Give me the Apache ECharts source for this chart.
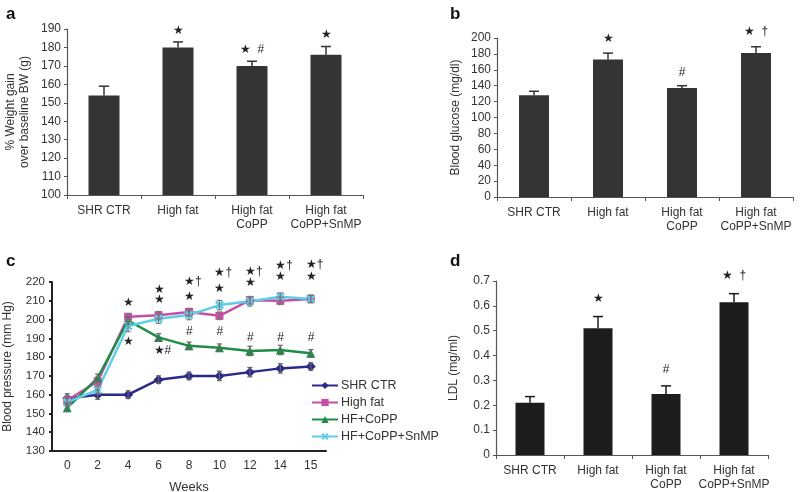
<!DOCTYPE html>
<html><head><meta charset="utf-8">
<script src="https://cdn.jsdelivr.net/npm/echarts@6/dist/echarts.min.js"></script>
<style>html,body{margin:0;padding:0;background:#fff}#c{width:800px;height:492px}</style>
</head><body><div id="c"></div>
<script>
// ---------- data ----------
const groups = ['SHR CTR', 'High fat', 'High fat\nCoPP', 'High fat\nCoPP+SnMP'];

const weightGain = [154, 180, 170, 176];
const weightGainErr = [5, 3, 2.5, 4.5];
const weightGainMarks = [[1, 189, '★'], [2, 179, '★  #'], [3, 186.7, '★']];

const glucose = [128, 173, 137, 181];
const glucoseErr = [5, 8, 3, 8];
const glucoseMarks = [[1, 198.7, '★'], [2, 156.6, '#'], [3, 207.6, '★  †']];

const ldl = [0.21, 0.51, 0.245, 0.615];
const ldlErr = [0.025, 0.047, 0.033, 0.034];
const ldlMarks = [[1, 0.63, '★'], [2, 0.342, '#'], [3, 0.72, '★  †']];

const weeks = ['0', '2', '4', '6', '8', '10', '12', '14', '15'];
const bpShr     = [158, 160, 160, 168, 170, 170, 172, 174, 175];
const bpHighFat = [157, 167, 201.5, 202.3, 204, 202, 210.3, 210, 211];
const bpCoPP    = [153, 169, 199.5, 190.5, 186, 185, 183.3, 183.8, 182];
const bpSnMP    = [156, 162.5, 196.6, 200.4, 202.4, 207.7, 209.7, 212.2, 211];
const bpShrErr     = [2.5, 2.5, 2, 2, 2, 2.5, 2.5, 2.5, 2];
const bpHighFatErr = [2.5, 2.5, 1.5, 2, 2, 2, 2, 2, 2];
const bpCoPPErr    = [2, 2, 2, 2, 2, 2, 2.5, 2.5, 2];
const bpSnMPErr    = [2, 2, 3, 2.5, 2.5, 2.5, 2.5, 2, 2];
const bpMarks = [
  [2, 208.8, '★'], [2, 188, '★'],
  [3, 215.9, '★'], [3, 210.6, '★'], [3, 183.5, '★#'],
  [4, 220, '★†'], [4, 212.3, '★'], [4, 193.6, '#'],
  [5, 224.8, '★†'], [5, 216.3, '★'], [5, 193.6, '#'],
  [6, 225.7, '★†'], [6, 219.5, '★'], [6, 190.6, '#'],
  [7, 228.7, '★†'], [7, 222.7, '★'], [7, 190.6, '#'],
  [8, 229.3, '★†'], [8, 222.7, '★'], [8, 190.6, '#']
];
const lineNames = ['SHR CTR', 'High fat', 'HF+CoPP', 'HF+CoPP+SnMP'];

// ---------- styles ----------
const FONT = '"Liberation Sans", Arial, sans-serif';
const TXT = '#333';
const AX = '#555';
const barColorAB = '#343434';
const barColorD = '#1c1c1c';
const lineColors = ['#2c2a88', '#c64fa6', '#1f8c48', '#5ccfe6'];
const xSymbol = 'path://M2,0L5,3L8,0L10,2L7,5L10,8L8,10L5,7L2,10L0,8L3,5L0,2Z';
const lineSymbols = ['diamond', 'rect', 'triangle', xSymbol];

function errBar(color, capW, both, lw) {
  return function (params, api) {
    const x = api.value(0), v = api.value(1), e = api.value(2);
    const top = api.coord([x, v + e]);
    const bot = api.coord([x, both ? v - e : v]);
    const ch = [
      {type: 'line', shape: {x1: top[0], y1: top[1], x2: bot[0], y2: bot[1]}, style: {stroke: color, lineWidth: lw}},
      {type: 'line', shape: {x1: top[0] - capW / 2, y1: top[1], x2: top[0] + capW / 2, y2: top[1]}, style: {stroke: color, lineWidth: lw}}
    ];
    if (both) ch.push({type: 'line', shape: {x1: bot[0] - capW / 2, y1: bot[1], x2: bot[0] + capW / 2, y2: bot[1]}, style: {stroke: color, lineWidth: lw}});
    return {type: 'group', children: ch};
  };
}
function marks(list, fontSize, leftAnchor) {
  return function (params, api) {
    const m = list[params.dataIndex];
    const p = api.coord([m[0], m[1]]);
    let align = 'center', dx = 0;
    if (leftAnchor) { align = 'left'; dx = m[2].charAt(0) === '★' ? -5 : -3; }
    return {type: 'text', x: p[0] + dx, y: p[1],
      style: {text: m[2], align: align, verticalAlign: 'middle', fontSize: fontSize, fill: '#222', fontFamily: FONT}};
  };
}
function zip(vals, errs) { return vals.map((v, i) => [i, v, errs[i]]); }

function catAxis(gi, data, margin, extra) {
  return Object.assign({
    type: 'category', gridIndex: gi, data: data,
    axisLine: {lineStyle: {color: AX, width: 1.2}},
    axisTick: {show: true, length: 4, lineStyle: {color: AX}},
    axisLabel: {color: TXT, fontSize: 12, fontFamily: FONT, margin: margin, lineHeight: 14, interval: 0}
  }, extra || {});
}
function valAxis(gi, min, max, interval, name, nameGap, extra) {
  return Object.assign({
    type: 'value', gridIndex: gi, min: min, max: max, interval: interval,
    name: name, nameLocation: 'middle', nameGap: nameGap,
    nameTextStyle: {color: TXT, fontSize: 12, fontFamily: FONT, lineHeight: 14},
    axisLine: {show: true, lineStyle: {color: AX, width: 1.2}},
    axisTick: {show: true, length: 3, lineStyle: {color: AX}},
    splitLine: {show: false},
    axisLabel: {color: TXT, fontSize: 12, fontFamily: FONT, margin: 6}
  }, extra || {});
}

const chart = echarts.init(document.getElementById('c'), null, {renderer: 'canvas'});
const option = {
  animation: false,
  backgroundColor: '#fff',
  textStyle: {fontFamily: FONT},
  title: [
    {text: 'a', left: 1, top: 1, textStyle: {fontSize: 17, fontWeight: 'bold', color: '#111', fontFamily: FONT}},
    {text: 'b', left: 445, top: 1, textStyle: {fontSize: 17, fontWeight: 'bold', color: '#111', fontFamily: FONT}},
    {text: 'c', left: 1, top: 248, textStyle: {fontSize: 17, fontWeight: 'bold', color: '#111', fontFamily: FONT}},
    {text: 'd', left: 445, top: 248, textStyle: {fontSize: 17, fontWeight: 'bold', color: '#111', fontFamily: FONT}}
  ],
  grid: [
    {left: 67, top: 29, width: 296, height: 166, outerBoundsMode: 'none'},
    {left: 497, top: 38, width: 296, height: 159, outerBoundsMode: 'none'},
    {left: 52, top: 282, width: 274, height: 169, outerBoundsMode: 'none'},
    {left: 496, top: 281, width: 272, height: 174, outerBoundsMode: 'none'}
  ],
  xAxis: [
    catAxis(0, groups, 9),
    catAxis(1, groups, 9),
    catAxis(2, weeks, 8, {name: 'Weeks', nameLocation: 'middle', nameGap: 30,
      nameTextStyle: {color: TXT, fontSize: 13, fontFamily: FONT},
      axisLine: {lineStyle: {color: '#222', width: 2}}, axisTick: {length: 3, lineStyle: {color: '#222', width: 2}}}),
    catAxis(3, groups, 9)
  ],
  yAxis: [
    valAxis(0, 100, 190, 10, '% Weight gain\nover baseline BW (g)', 35),
    valAxis(1, 0, 200, 20, 'Blood glucose (mg/dl)', 34),
    valAxis(2, 130, 220, 10, 'Blood pressure (mm Hg)', 37, {
      axisLine: {show: true, lineStyle: {color: '#222', width: 2}},
      axisTick: {show: true, length: 3, lineStyle: {color: '#222', width: 2}},
      axisLabel: {color: TXT, fontSize: 11.5, fontFamily: FONT, margin: 7}}),
    valAxis(3, 0, 0.7, 0.1, 'LDL (mg/ml)', 35)
  ],
  legend: {
    data: lineNames, orient: 'vertical', left: 306, top: 374, itemGap: 4,
    itemWidth: 26, itemHeight: 9,
    textStyle: {color: TXT, fontSize: 12.5, fontFamily: FONT, padding: [0, 0, 0, -2]}
  },
  series: [
    // panel a
    {type: 'bar', xAxisIndex: 0, yAxisIndex: 0, data: weightGain, barWidth: 31, itemStyle: {color: barColorAB}, z: 2},
    {type: 'custom', xAxisIndex: 0, yAxisIndex: 0, data: zip(weightGain, weightGainErr), renderItem: errBar(barColorAB, 10, false, 1.5), encode: {x: 0, y: 1}, z: 3},
    {type: 'custom', xAxisIndex: 0, yAxisIndex: 0, data: weightGainMarks.map(m => [m[0], m[1]]), renderItem: marks(weightGainMarks, 12, false), encode: {x: 0, y: 1}, z: 4},
    // panel b
    {type: 'bar', xAxisIndex: 1, yAxisIndex: 1, data: glucose, barWidth: 30, itemStyle: {color: barColorAB}, z: 2},
    {type: 'custom', xAxisIndex: 1, yAxisIndex: 1, data: zip(glucose, glucoseErr), renderItem: errBar(barColorAB, 10, false, 1.5), encode: {x: 0, y: 1}, z: 3},
    {type: 'custom', xAxisIndex: 1, yAxisIndex: 1, data: glucoseMarks.map(m => [m[0], m[1]]), renderItem: marks(glucoseMarks, 12, false), encode: {x: 0, y: 1}, z: 4},
    // panel d
    {type: 'bar', xAxisIndex: 3, yAxisIndex: 3, data: ldl, barWidth: 29, itemStyle: {color: barColorD}, z: 2},
    {type: 'custom', xAxisIndex: 3, yAxisIndex: 3, data: zip(ldl, ldlErr), renderItem: errBar(barColorD, 10, false, 1.5), encode: {x: 0, y: 1}, z: 3},
    {type: 'custom', xAxisIndex: 3, yAxisIndex: 3, data: ldlMarks.map(m => [m[0], m[1]]), renderItem: marks(ldlMarks, 12, false), encode: {x: 0, y: 1}, z: 4},
    // panel c lines
    {name: lineNames[0], type: 'line', xAxisIndex: 2, yAxisIndex: 2, data: bpShr, symbol: lineSymbols[0], symbolSize: 10, color: lineColors[0], lineStyle: {width: 2.5}, z: 2},
    {name: lineNames[1], type: 'line', xAxisIndex: 2, yAxisIndex: 2, data: bpHighFat, symbol: lineSymbols[1], symbolSize: 8, color: lineColors[1], lineStyle: {width: 2.5}, z: 2},
    {name: lineNames[2], type: 'line', xAxisIndex: 2, yAxisIndex: 2, data: bpCoPP, symbol: lineSymbols[2], symbolSize: 9, color: lineColors[2], lineStyle: {width: 2.5}, z: 2},
    {name: lineNames[3], type: 'line', xAxisIndex: 2, yAxisIndex: 2, data: bpSnMP, symbol: lineSymbols[3], symbolSize: 9, color: lineColors[3], lineStyle: {width: 2.5}, z: 2},
    {type: 'custom', xAxisIndex: 2, yAxisIndex: 2, data: zip(bpShr, bpShrErr), renderItem: errBar('#666', 5, true, 1.2), encode: {x: 0, y: 1}, z: 3},
    {type: 'custom', xAxisIndex: 2, yAxisIndex: 2, data: zip(bpHighFat, bpHighFatErr), renderItem: errBar('#777', 5, true, 1.2), encode: {x: 0, y: 1}, z: 3},
    {type: 'custom', xAxisIndex: 2, yAxisIndex: 2, data: zip(bpCoPP, bpCoPPErr), renderItem: errBar('#666', 5, true, 1.2), encode: {x: 0, y: 1}, z: 3},
    {type: 'custom', xAxisIndex: 2, yAxisIndex: 2, data: zip(bpSnMP, bpSnMPErr), renderItem: errBar('#777', 5, true, 1.2), encode: {x: 0, y: 1}, z: 3},
    {type: 'custom', xAxisIndex: 2, yAxisIndex: 2, data: bpMarks.map(m => [m[0], m[1]]), renderItem: marks(bpMarks, 12, true), encode: {x: 0, y: 1}, z: 4}
  ]
};
chart.setOption(option);
</script>
</body></html>
